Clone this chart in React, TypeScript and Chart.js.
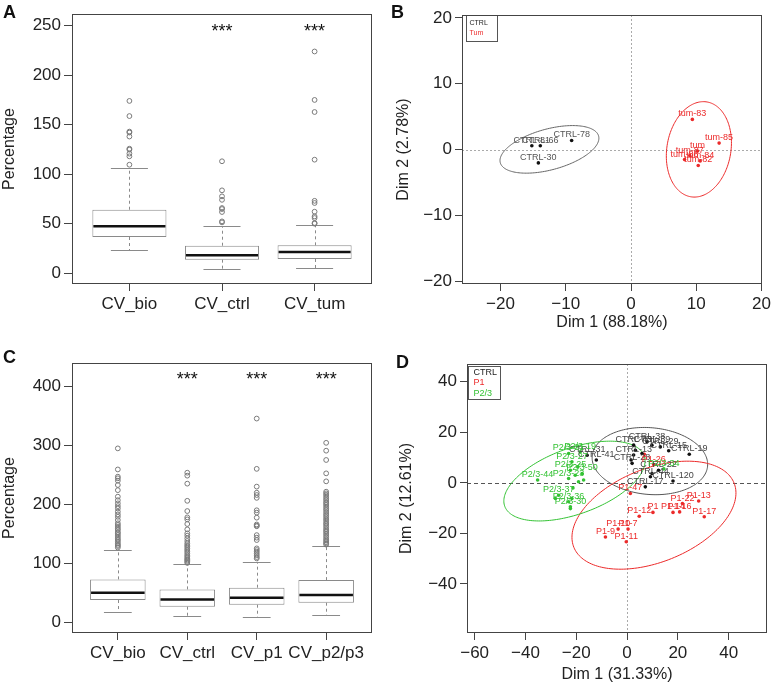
import React, { useEffect, useRef } from "react";
import { Chart, registerables } from "chart.js";
Chart.register(...registerables);

const FONT = "'Liberation Sans', Arial, Helvetica, sans-serif";
const TXT = "#222";
const RED = "#ec2a2a";
const GREEN = "#33c233";

// ---------------- Panel A (box plot) ----------------
const catsA = ["CV_bio", "CV_ctrl", "CV_tum"];
const q1A = [36.4, 13.5, 14.2];
const medA = [47.2, 17.9, 21.2];
const q3A = [64.0, 27.6, 28.0];
const loA = [22.9, 4.0, 5.0];
const hiA = [105.8, 47.2, 48.2];
const outBioA = [174, 158.7, 143, 142, 138, 125.7, 124.7, 120.7, 118, 109.5];
const outCtrlA = [113, 83.6, 77.5, 74, 65.7, 64.7, 61.7, 52.2, 51.2];
const outTumA = [224, 175, 162.8, 114.6, 73, 70.8, 62, 57.3, 55.6, 50.6, 49.9];
const starsA = ["", "***", "***"];
const starLevelA = 249;
const yTicksA = [0, 50, 100, 150, 200, 250];

// ---------------- Panel C (box plot) ----------------
const catsC = ["CV_bio", "CV_ctrl", "CV_p1", "CV_p2/p3"];
const q1C = [38.3, 27.0, 30.4, 33.8];
const medC = [50.7, 39.4, 42.3, 46.8];
const q3C = [73.2, 56.3, 59.2, 72.0];
const loC = [17.5, 11.3, 9.6, 12.4];
const hiC = [122.8, 99.0, 103.0, 130.0];
const outBioC = [294.6, 259, 246.8, 244, 240, 232.7, 224, 213, 207, 201.7, 197, 193, 187.6, 183, 179, 173.5, 168, 165, 162, 159, 156.6, 153, 151, 148, 145, 142, 139.7, 137, 134, 131.5, 129.6, 127];
const outCtrlC = [253.5, 248.5, 235, 206, 188.7, 178, 174.6, 166.8, 157.7, 151, 147, 142.5, 138, 134, 131, 128.5, 125.5, 122.8, 120, 117, 114, 111.5, 109, 107, 105, 103, 101];
const outP1C = [345, 260, 230, 219.7, 215.8, 211, 190, 186, 177.5, 166, 164, 163, 148, 143.7, 139.7, 125.6, 122.8, 120, 117, 114, 111, 108.7];
const outP23C = [304, 290.7, 275, 252.4, 238.9, 221.4, 218.6, 216, 213, 210, 207.3, 204, 201.7, 199, 196, 193, 190.4, 187, 183.7, 181, 178, 175, 172.4, 169, 166.8, 164, 161, 158, 155.5, 153, 150, 147, 144, 141, 138.6, 136, 134, 132];
const starsC = ["", "***", "***", "***"];
const starLevelC = 418;
const yTicksC = [0, 100, 200, 300, 400];

// ---------------- Panel B (PCA) ----------------
const ctrlBx = [-15.2, -13.9, -14.2, -9.1];
const ctrlBy = [0.6, 0.6, -2.0, 1.4];
const ctrlBlab = ["CTRL-81", "CTRL-66", "CTRL-30", "CTRL-78"];
const tumBx = [9.4, 13.5, 8.2, 9.0, 10.6, 10.3, 10.2];
const tumBy = [4.6, 1.0, -1.5, -0.9, -1.7, -2.4, -0.2];
const tumBlab = ["tum-83", "tum-85", "tum-86", "tum-87", "tum-84", "tum-82", "tum"];
const ellBcx = [-12.5, 10.4];
const ellBcy = [0.05, 0.05];
const ellBa = [7.8, 7.3];
const ellBb = [3.1, 4.9];
const ellBang = [15, 80];
const ticksBx = [-20, -10, 0, 10, 20];
const ticksBy = [-20, -10, 0, 10, 20];

// ---------------- Panel D (PCA) ----------------
const ctrlDx = [-15.7, -12.1, 24.5, 18.1, 16.4, 13.1, 12.4, 9.8, 9.2, 7.2, 9.8, 7.9, 2.6, 3.3, 2.6, 1.6, 2.0, 5.9];
const ctrlDy = [10.9, 9.0, 11.3, 0.7, 12.7, 14.2, 5.0, 3.7, 2.4, -1.6, 14.9, 16.2, 14.9, 12.9, 11.0, 9.0, 7.7, 11.6];
const ctrlDlab = ["CTRL-31", "CTRL-41", "CTRL-19", "CTRL-120", "CTRL-15", "CTRL-29", "CTRL-22", "", "CTRL-44", "CTRL-17", "CTRL-39", "CTRL-38", "CTRL-43", "", "CTRL-13", "", "CTRL-28", ""];
const p1Dx = [1.3, 28.2, 30.4, 21.8, 18.1, 20.7, 4.8, 10.2, -3.5, 0.4, -8.5, -0.3, 10.5, 6.8];
const p1Dy = [-4.2, -7.2, -13.4, -8.2, -11.7, -11.5, -13.2, -11.7, -18.3, -18.3, -21.4, -23.3, 7.2, 11.3];
const p1Dlab = ["P1-47", "P1-13", "P1-17", "P1-22", "P1-14", "P1-16", "P1-12", "P1", "P1-10", "P1-7", "P1-9", "P1-11", "P1-26", ""];
const p23Dx = [-35.2, -23.0, -18.4, -21.7, -19.4, -22.3, -17.7, -20.4, -23.0, -17.1, -19.1, -21.3, -26.9, -28.2, -23.0, -21.7, -22.3, -22.3, 14.5];
const p23Dy = [1.1, 11.6, 12.3, 8.3, 6.3, 5.0, 3.7, 3.0, 1.7, 1.1, 0.4, -2.0, -4.9, -6.2, -7.5, -6.2, -9.5, -10.2, 5.5];
const p23Dlab = ["P2/3-44", "P2/3-21", "P2/3-19", "P2/3-27", "", "P2/3-25", "P2/3-50", "", "P2/3-23", "", "", "", "P2/3-37", "", "P2/3-36", "", "P2/3-30", "", "P2/3-34"];
const ellDcx = [9.0, 10.6, -20.7];
const ellDcy = [8.6, -12.8, 0.7];
const ellDa = [22.8, 34, 29.2];
const ellDb = [13.2, 18.5, 13];
const ellDang = [-5, 22, 20];
const ticksDx = [-60, -40, -20, 0, 20, 40];
const ticksDy = [-40, -20, 0, 20, 40];

const minus = (v: any) => String(v).replace("-", "\u2212");

function drawFrame(ctx: CanvasRenderingContext2D, ca: any) {
  ctx.save();
  ctx.strokeStyle = "#444";
  ctx.lineWidth = 1;
  ctx.setLineDash([]);
  ctx.strokeRect(Math.round(ca.left) + 0.5, Math.round(ca.top) + 0.5, Math.round(ca.right - ca.left) - 1, Math.round(ca.bottom - ca.top) - 1);
  ctx.restore();
}

function BoxPanel(p: any) {
  const ref = useRef<HTMLCanvasElement>(null);
  useEffect(() => {
    const n = p.cats.length;
    const xMin = 0.5 - 0.04 * n;
    const xMax = n + 0.5 + 0.04 * n;
    const { area, w, h } = p;
    const boxPlugin = {
      id: "boxParts",
      beforeDatasetsDraw(chart: any) {
        const { ctx, scales } = chart;
        const x = scales.x, y = scales.y;
        ctx.save();
        ctx.strokeStyle = "#8a8a8a";
        ctx.lineWidth = 1;
        for (let i = 0; i < n; i++) {
          const px = Math.round(x.getPixelForValue(i + 1)) + 0.5;
          ctx.setLineDash([3, 3]);
          ctx.beginPath();
          ctx.moveTo(px, y.getPixelForValue(p.q3[i]));
          ctx.lineTo(px, y.getPixelForValue(p.hi[i]));
          ctx.moveTo(px, y.getPixelForValue(p.q1[i]));
          ctx.lineTo(px, y.getPixelForValue(p.lo[i]));
          ctx.stroke();
          ctx.setLineDash([]);
          ctx.beginPath();
          for (const v of [p.hi[i], p.lo[i]]) {
            const py = Math.round(y.getPixelForValue(v)) + 0.5;
            ctx.moveTo(x.getPixelForValue(i + 1 - 0.2), py);
            ctx.lineTo(x.getPixelForValue(i + 1 + 0.2), py);
          }
          ctx.stroke();
        }
        ctx.restore();
      },
      afterDatasetsDraw(chart: any) {
        const { ctx, scales, chartArea } = chart;
        const x = scales.x, y = scales.y;
        ctx.save();
        ctx.strokeStyle = "#111";
        ctx.lineWidth = 2.5;
        for (let i = 0; i < n; i++) {
          const py = y.getPixelForValue(p.med[i]);
          ctx.beginPath();
          ctx.moveTo(x.getPixelForValue(i + 1 - 0.4) + 1, py);
          ctx.lineTo(x.getPixelForValue(i + 1 + 0.4) - 1, py);
          ctx.stroke();
        }
        ctx.fillStyle = "#111";
        ctx.font = `18px ${FONT}`;
        ctx.textAlign = "center";
        ctx.textBaseline = "alphabetic";
        for (let i = 0; i < n; i++) {
          if (!p.stars[i]) continue;
          ctx.fillText(p.stars[i], x.getPixelForValue(i + 1), y.getPixelForValue(p.starLevel) + 10);
        }
        ctx.restore();
        drawFrame(ctx, chartArea);
      },
    };
    const chart = new Chart(ref.current as HTMLCanvasElement, {
      type: "bar",
      data: {
        datasets: [
          {
            type: "bar",
            data: p.cats.map((_: any, i: number) => ({ x: i + 1, y: [p.q1[i], p.q3[i]] })),
            backgroundColor: "#ffffff",
            borderColor: "#8a8a8a",
            borderWidth: 1,
            borderSkipped: false,
            barPercentage: 0.8,
            categoryPercentage: 1,
            order: 2,
          } as any,
          {
            type: "scatter",
            data: p.outliers.flatMap((arr: number[], i: number) => arr.map((v) => ({ x: i + 1, y: v }))),
            pointRadius: 2.4,
            pointStyle: "circle",
            backgroundColor: "rgba(0,0,0,0)",
            borderColor: "#7a7a7a",
            borderWidth: 1,
            order: 1,
          } as any,
        ],
      },
      options: {
        animation: false,
        responsive: false,
        events: [],
        layout: { padding: { left: 0, top: area.t, right: w - area.r, bottom: 0 } },
        plugins: { legend: { display: false }, tooltip: { enabled: false } },
        scales: {
          x: {
            type: "linear",
            min: xMin,
            max: xMax,
            offset: false,
            grid: { offset: false, drawOnChartArea: false, drawTicks: true, tickLength: 7, color: "#444" },
            border: { display: false },
            afterBuildTicks: (s: any) => {
              s.ticks = p.cats.map((_: any, i: number) => ({ value: i + 1 }));
            },
            afterFit: (s: any) => {
              s.height = h - area.b;
            },
            ticks: {
              autoSkip: false,
              maxRotation: 0,
              padding: 3,
              color: TXT,
              font: { family: FONT, size: 17 },
              callback: (_v: any, i: number) => p.cats[i],
            },
          },
          y: {
            type: "linear",
            min: p.yMin,
            max: p.yMax,
            grid: { drawOnChartArea: false, drawTicks: true, tickLength: 8, color: "#444" },
            border: { display: false },
            afterBuildTicks: (s: any) => {
              s.ticks = p.yTicks.map((v: number) => ({ value: v }));
            },
            afterFit: (s: any) => {
              s.width = area.l;
            },
            ticks: { padding: 3, color: TXT, font: { family: FONT, size: 17 } },
            title: {
              display: true,
              text: "Percentage",
              color: TXT,
              font: { family: FONT, size: 16 },
              padding: { top: p.yTitlePad, bottom: 0 },
            },
          },
        },
      } as any,
      plugins: [boxPlugin],
    });
    return () => chart.destroy();
  }, []);
  return (
    <canvas
      ref={ref}
      width={p.w}
      height={p.h}
      style={{ position: "absolute", left: p.left, top: p.top, width: p.w, height: p.h }}
    />
  );
}

function PcaPanel(p: any) {
  const ref = useRef<HTMLCanvasElement>(null);
  useEffect(() => {
    const { area, w, h } = p;
    const pcaPlugin = {
      id: "pcaExtras",
      beforeDatasetsDraw(chart: any) {
        const { ctx, chartArea: ca, scales } = chart;
        const x = scales.x, y = scales.y;
        ctx.save();
        ctx.beginPath();
        ctx.rect(ca.left, ca.top, ca.right - ca.left, ca.bottom - ca.top);
        ctx.clip();
        ctx.lineWidth = 1;
        const y0 = Math.round(y.getPixelForValue(0)) + 0.5;
        ctx.strokeStyle = p.hRefColor;
        ctx.setLineDash(p.hRefDash);
        ctx.beginPath();
        ctx.moveTo(ca.left, y0);
        ctx.lineTo(ca.right, y0);
        ctx.stroke();
        const x0 = Math.round(x.getPixelForValue(0)) + 0.5;
        ctx.strokeStyle = p.vRefColor;
        ctx.setLineDash(p.vRefDash);
        ctx.beginPath();
        ctx.moveTo(x0, ca.top);
        ctx.lineTo(x0, ca.bottom);
        ctx.stroke();
        ctx.setLineDash([]);
        for (let e = 0; e < p.ellCx.length; e++) {
          const th = (p.ellAng[e] * Math.PI) / 180;
          ctx.strokeStyle = p.ellCol[e];
          ctx.beginPath();
          for (let k = 0; k <= 180; k++) {
            const t = (2 * Math.PI * k) / 180;
            const dx = p.ellA[e] * Math.cos(t);
            const dy = p.ellB[e] * Math.sin(t);
            const X = p.ellCx[e] + dx * Math.cos(th) - dy * Math.sin(th);
            const Y = p.ellCy[e] + dx * Math.sin(th) + dy * Math.cos(th);
            const px = x.getPixelForValue(X);
            const py = y.getPixelForValue(Y);
            if (k === 0) ctx.moveTo(px, py);
            else ctx.lineTo(px, py);
          }
          ctx.stroke();
        }
        ctx.restore();
      },
      afterDatasetsDraw(chart: any) {
        const { ctx, chartArea: ca, scales } = chart;
        const x = scales.x, y = scales.y;
        ctx.save();
        ctx.font = `${p.labSize}px ${FONT}`;
        ctx.textAlign = "center";
        ctx.textBaseline = "bottom";
        for (const g of p.groups) {
          ctx.fillStyle = g.labColor;
          g.xs.forEach((xv: number, i: number) => {
            if (!g.labels[i]) return;
            ctx.fillText(g.labels[i], x.getPixelForValue(xv), y.getPixelForValue(g.ys[i]) - 1);
          });
        }
        // legend
        const lx = Math.round(ca.left + p.lg.dx) + 0.5;
        const ly = Math.round(ca.top + p.lg.dy) + 0.5;
        ctx.fillStyle = "#fff";
        ctx.fillRect(lx, ly, p.lg.w, p.lg.h);
        ctx.strokeStyle = "#555";
        ctx.lineWidth = 1;
        ctx.strokeRect(lx, ly, p.lg.w, p.lg.h);
        ctx.font = `${p.lg.size}px ${FONT}`;
        ctx.textAlign = "left";
        ctx.textBaseline = "middle";
        p.groups.forEach((g: any, i: number) => {
          ctx.fillStyle = g.legColor;
          ctx.fillText(g.name, lx + p.lg.tx, ly + p.lg.ty + i * p.lg.line);
        });
        ctx.restore();
        drawFrame(ctx, ca);
      },
    };
    const chart = new Chart(ref.current as HTMLCanvasElement, {
      type: "scatter",
      data: {
        datasets: p.groups.map((g: any) => ({
          data: g.xs.map((xv: number, i: number) => ({ x: xv, y: g.ys[i] })),
          pointRadius: 1.8,
          backgroundColor: g.color,
          borderColor: g.color,
          borderWidth: 0,
        })),
      },
      options: {
        animation: false,
        responsive: false,
        events: [],
        layout: { padding: { left: 0, top: area.t, right: w - area.r, bottom: 0 } },
        plugins: { legend: { display: false }, tooltip: { enabled: false } },
        scales: {
          x: {
            type: "linear",
            min: p.xMin,
            max: p.xMax,
            grid: { drawOnChartArea: false, drawTicks: true, tickLength: 7, color: "#444" },
            border: { display: false },
            afterBuildTicks: (s: any) => {
              s.ticks = p.xTicks.map((v: number) => ({ value: v }));
            },
            afterFit: (s: any) => {
              s.height = h - area.b;
            },
            ticks: { autoSkip: false, maxRotation: 0, padding: 3, color: TXT, font: { family: FONT, size: 17 }, callback: minus },
            title: {
              display: true,
              text: p.xTitle,
              color: TXT,
              font: { family: FONT, size: 16 },
              padding: { top: 0, bottom: p.xTitlePad },
            },
          },
          y: {
            type: "linear",
            min: p.yMin,
            max: p.yMax,
            grid: { drawOnChartArea: false, drawTicks: true, tickLength: 7, color: "#444" },
            border: { display: false },
            afterBuildTicks: (s: any) => {
              s.ticks = p.yTicks.map((v: number) => ({ value: v }));
            },
            afterFit: (s: any) => {
              s.width = area.l;
            },
            ticks: { padding: 3, color: TXT, font: { family: FONT, size: 17 }, callback: minus },
            title: {
              display: true,
              text: p.yTitle,
              color: TXT,
              font: { family: FONT, size: 16 },
              padding: { top: p.yTitlePad, bottom: 0 },
            },
          },
        },
      } as any,
      plugins: [pcaPlugin],
    });
    return () => chart.destroy();
  }, []);
  return (
    <canvas
      ref={ref}
      width={p.w}
      height={p.h}
      style={{ position: "absolute", left: p.left, top: p.top, width: p.w, height: p.h }}
    />
  );
}

const letterStyle = (left: number, top: number): React.CSSProperties => ({
  position: "absolute",
  left,
  top,
  font: `bold 18px ${FONT}`,
  lineHeight: "18px",
  color: "#111",
});

export default function App() {
  return (
    <div style={{ position: "absolute", left: 0, top: 0, width: 774, height: 685, background: "#fff", overflow: "hidden" }}>
      <BoxPanel
        left={0}
        top={0}
        w={390}
        h={330}
        area={{ l: 72, r: 372, t: 14, b: 284 }}
        cats={catsA}
        q1={q1A}
        med={medA}
        q3={q3A}
        lo={loA}
        hi={hiA}
        outliers={[outBioA, outCtrlA, outTumA]}
        stars={starsA}
        starLevel={starLevelA}
        yTicks={yTicksA}
        yMin={-11.1}
        yMax={261.9}
        yTitlePad={0.4}
      />
      <PcaPanel
        left={390}
        top={0}
        w={384}
        h={335}
        area={{ l: 72, r: 375, t: 15, b: 284 }}
        xMin={-25.9}
        xMax={20.05}
        yMin={-20.38}
        yMax={20.44}
        xTicks={ticksBx}
        yTicks={ticksBy}
        xTitle="Dim 1 (88.18%)"
        yTitle="Dim 2 (2.78%)"
        xTitlePad={2.4}
        yTitlePad={3.9}
        labSize={9}
        hRefColor="#aaa"
        hRefDash={[2, 2]}
        vRefColor="#aaa"
        vRefDash={[2, 2]}
        ellCx={ellBcx}
        ellCy={ellBcy}
        ellA={ellBa}
        ellB={ellBb}
        ellAng={ellBang}
        ellCol={["#666", RED]}
        lg={{ dx: 4, dy: 0, w: 31, h: 26, size: 7, tx: 3, ty: 8, line: 10 }}
        groups={[
          { name: "CTRL", xs: ctrlBx, ys: ctrlBy, labels: ctrlBlab, color: "#111", labColor: "#555", legColor: "#222" },
          { name: "Tum", xs: tumBx, ys: tumBy, labels: tumBlab, color: RED, labColor: RED, legColor: RED },
        ]}
      />
      <BoxPanel
        left={0}
        top={330}
        w={390}
        h={355}
        area={{ l: 72, r: 372, t: 33, b: 303 }}
        cats={catsC}
        q1={q1C}
        med={medC}
        q3={q3C}
        lo={loC}
        hi={hiC}
        outliers={[outBioC, outCtrlC, outP1C, outP23C]}
        stars={starsC}
        starLevel={starLevelC}
        yTicks={yTicksC}
        yMin={-17.4}
        yMax={438.9}
        yTitlePad={0.4}
      />
      <PcaPanel
        left={390}
        top={330}
        w={384}
        h={355}
        area={{ l: 77, r: 377, t: 34, b: 303 }}
        xMin={-63}
        xMax={55.1}
        yMin={-59.4}
        yMax={47.0}
        xTicks={ticksDx}
        yTicks={ticksDy}
        xTitle="Dim 1 (31.33%)"
        yTitle="Dim 2 (12.61%)"
        xTitlePad={0.4}
        yTitlePad={6.9}
        labSize={9}
        hRefColor="#555"
        hRefDash={[4, 3]}
        vRefColor="#aaa"
        vRefDash={[2, 2]}
        ellCx={ellDcx}
        ellCy={ellDcy}
        ellA={ellDa}
        ellB={ellDb}
        ellAng={ellDang}
        ellCol={["#555", RED, GREEN]}
        lg={{ dx: 1, dy: 2, w: 32, h: 33, size: 9, tx: 5, ty: 6, line: 10.5 }}
        groups={[
          { name: "CTRL", xs: ctrlDx, ys: ctrlDy, labels: ctrlDlab, color: "#111", labColor: "#444", legColor: "#222" },
          { name: "P1", xs: p1Dx, ys: p1Dy, labels: p1Dlab, color: RED, labColor: RED, legColor: RED },
          { name: "P2/3", xs: p23Dx, ys: p23Dy, labels: p23Dlab, color: GREEN, labColor: GREEN, legColor: GREEN },
        ]}
      />
      <div style={letterStyle(3, 3)}>A</div>
      <div style={letterStyle(391, 3)}>B</div>
      <div style={letterStyle(3, 348)}>C</div>
      <div style={letterStyle(396, 353)}>D</div>
    </div>
  );
}
